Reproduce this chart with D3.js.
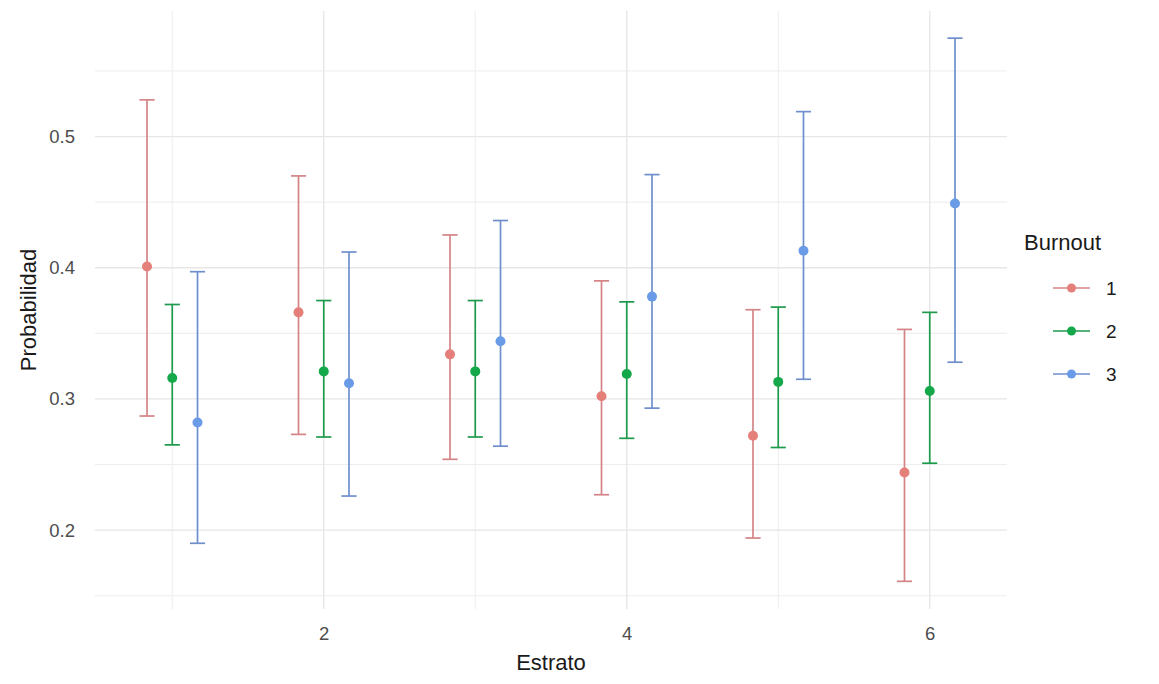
<!DOCTYPE html>
<html>
<head>
<meta charset="utf-8">
<script src="https://cdn.jsdelivr.net/npm/d3@7"></script>
<style>
  html, body { margin: 0; padding: 0; background: #ffffff; }
  svg { display: block; font-family: "Liberation Sans", Arial, sans-serif; }
</style>
</head>
<body>
<svg id="chart" width="1159" height="684"></svg>
<script>
// ---- data ----
const estratos = [1, 2, 3, 4, 5, 6];
const burnoutLevels = ["1", "2", "3"];
const prob1  = [0.401, 0.366, 0.334, 0.302, 0.272, 0.244];
const lower1 = [0.287, 0.273, 0.254, 0.227, 0.194, 0.161];
const upper1 = [0.528, 0.470, 0.425, 0.390, 0.368, 0.353];
const prob2  = [0.316, 0.321, 0.321, 0.319, 0.313, 0.306];
const lower2 = [0.265, 0.271, 0.271, 0.270, 0.263, 0.251];
const upper2 = [0.372, 0.375, 0.375, 0.374, 0.370, 0.366];
const prob3  = [0.282, 0.312, 0.344, 0.378, 0.413, 0.449];
const lower3 = [0.190, 0.226, 0.264, 0.293, 0.315, 0.328];
const upper3 = [0.397, 0.412, 0.436, 0.471, 0.519, 0.575];
const xTicks = [2, 4, 6];
const xMinor = [1, 3, 5];
const yTicks = [0.2, 0.3, 0.4, 0.5];
const yMinor = [0.15, 0.25, 0.35, 0.45, 0.55];
const pointColors = ["#E57F7A", "#14A84A", "#6A9BE6"];
const barColors = ["#D48486", "#1E9A4C", "#6E8FCC"];

const series = [
  { key: "1", p: prob1, lo: lower1, hi: upper1 },
  { key: "2", p: prob2, lo: lower2, hi: upper2 },
  { key: "3", p: prob3, lo: lower3, hi: upper3 }
];

// ---- layout ----
const panel = { left: 95, right: 1007, top: 11, bottom: 609 };
const dodgeWidth = 0.5;
const capWidth = 0.1;

const x = d3.scaleLinear().domain([0.49, 6.51]).range([panel.left, panel.right]);
const y = d3.scaleLinear().domain([0.1399, 0.5957]).range([panel.bottom, panel.top]);
const pColor = d3.scaleOrdinal().domain(burnoutLevels).range(pointColors);
const bColor = d3.scaleOrdinal().domain(burnoutLevels).range(barColors);
const offset = d3.scaleLinear().domain([0, 2]).range([-dodgeWidth / 3, dodgeWidth / 3]);

const svg = d3.select("#chart");

// grid
const grid = svg.append("g");
grid.selectAll("line.ymin").data(yMinor).join("line")
  .attr("x1", panel.left).attr("x2", panel.right)
  .attr("y1", d => y(d)).attr("y2", d => y(d))
  .attr("stroke", "#EBEBEB").attr("stroke-width", 0.9);
grid.selectAll("line.xmin").data(xMinor).join("line")
  .attr("y1", panel.top).attr("y2", panel.bottom)
  .attr("x1", d => x(d)).attr("x2", d => x(d))
  .attr("stroke", "#EBEBEB").attr("stroke-width", 0.9);
grid.selectAll("line.ymaj").data(yTicks).join("line")
  .attr("x1", panel.left).attr("x2", panel.right)
  .attr("y1", d => y(d)).attr("y2", d => y(d))
  .attr("stroke", "#E6E6E6").attr("stroke-width", 1.3);
grid.selectAll("line.xmaj").data(xTicks).join("line")
  .attr("y1", panel.top).attr("y2", panel.bottom)
  .attr("x1", d => x(d)).attr("x2", d => x(d))
  .attr("stroke", "#E6E6E6").attr("stroke-width", 1.3);

// axes (labels only, ggplot minimal)
const yAxis = svg.append("g")
  .attr("transform", `translate(${panel.left},0)`)
  .call(d3.axisLeft(y).tickValues(yTicks).tickFormat(d3.format(".1f")).tickSize(0).tickPadding(20));
const xAxis = svg.append("g")
  .attr("transform", `translate(0,${panel.bottom})`)
  .call(d3.axisBottom(x).tickValues(xTicks).tickFormat(d3.format("d")).tickSize(0).tickPadding(18));
[yAxis, xAxis].forEach(a => {
  a.select(".domain").remove();
  a.selectAll("text").attr("fill", "#4D4D4D").style("font-size", "18.5px")
    .style("font-family", "'Liberation Sans', Arial, sans-serif");
});

// axis titles
svg.append("text").attr("x", (panel.left + panel.right) / 2).attr("y", 670)
  .attr("text-anchor", "middle").attr("fill", "#1a1a1a").style("font-size", "22px").text("Estrato");
svg.append("text").attr("transform", `translate(36,${(panel.top + panel.bottom) / 2}) rotate(-90)`)
  .attr("text-anchor", "middle").attr("fill", "#1a1a1a").style("font-size", "22px").text("Probabilidad");

// data marks
series.forEach((s, si) => {
  const g = svg.append("g");
  const c = pColor(s.key);
  const bc = bColor(s.key);
  const pts = estratos.map((e, i) => ({ xv: e + offset(si), p: s.p[i], lo: s.lo[i], hi: s.hi[i] }));
  g.selectAll("line.v").data(pts).join("line")
    .attr("x1", d => x(d.xv)).attr("x2", d => x(d.xv))
    .attr("y1", d => y(d.lo)).attr("y2", d => y(d.hi))
    .attr("stroke", bc).attr("stroke-width", 1.7);
  g.selectAll("line.t").data(pts).join("line")
    .attr("x1", d => x(d.xv - capWidth / 2)).attr("x2", d => x(d.xv + capWidth / 2))
    .attr("y1", d => y(d.hi)).attr("y2", d => y(d.hi))
    .attr("stroke", bc).attr("stroke-width", 1.7);
  g.selectAll("line.b").data(pts).join("line")
    .attr("x1", d => x(d.xv - capWidth / 2)).attr("x2", d => x(d.xv + capWidth / 2))
    .attr("y1", d => y(d.lo)).attr("y2", d => y(d.lo))
    .attr("stroke", bc).attr("stroke-width", 1.7);
  g.selectAll("circle").data(pts).join("circle")
    .attr("cx", d => x(d.xv)).attr("cy", d => y(d.p)).attr("r", 5)
    .attr("fill", c);
});

// legend
const legend = svg.append("g").attr("transform", "translate(1024,0)");
legend.append("text").attr("x", 0).attr("y", 250).attr("fill", "#1a1a1a")
  .style("font-size", "22px").text("Burnout");
burnoutLevels.forEach((k, i) => {
  const cy = 288 + i * 43;
  legend.append("line").attr("x1", 29).attr("x2", 66).attr("y1", cy).attr("y2", cy)
    .attr("stroke", bColor(k)).attr("stroke-width", 1.7);
  legend.append("circle").attr("cx", 47.5).attr("cy", cy).attr("r", 4.5).attr("fill", pColor(k));
  legend.append("text").attr("x", 82).attr("y", cy + 7).attr("fill", "#1a1a1a")
    .style("font-size", "19px").text(k);
});
</script>
</body>
</html>
